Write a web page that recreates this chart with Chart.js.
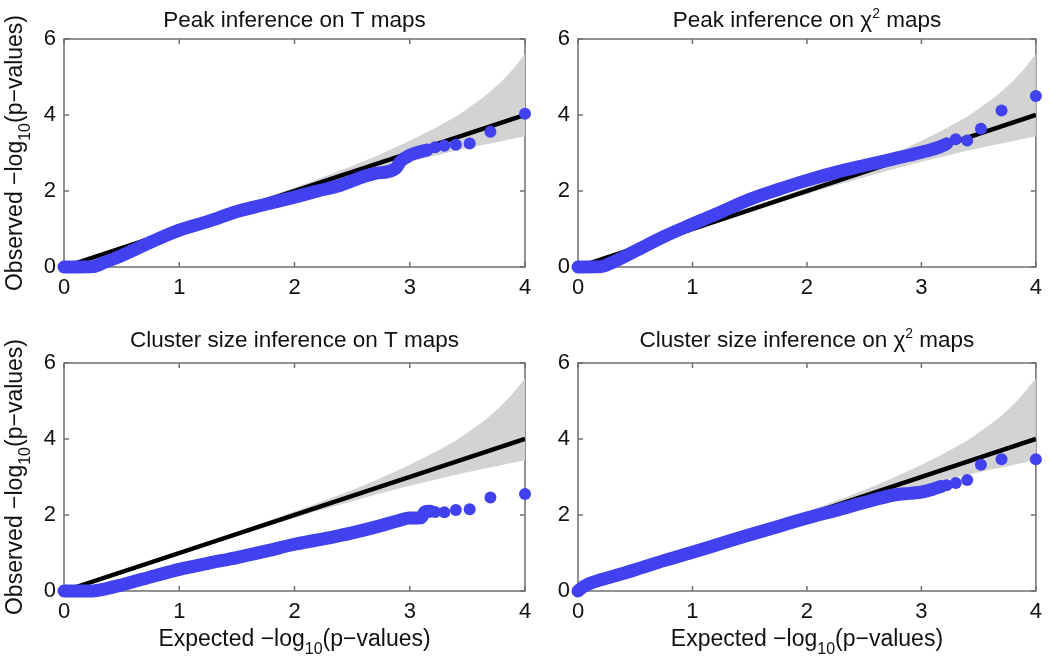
<!DOCTYPE html>
<html>
<head>
<meta charset="utf-8">
<script src="https://cdn.jsdelivr.net/npm/chart.js@4.4.1/dist/chart.umd.min.js"></script>
<style>
  body { margin: 0; background: #fff; width: 1050px; height: 659px; position: relative; overflow: hidden; }
  canvas { position: absolute; }
</style>
</head>
<body>
<canvas id="peakT" width="545" height="320" style="left:0;top:0"></canvas>
<canvas id="peakChi" width="505" height="320" style="left:545px;top:0"></canvas>
<canvas id="clusterT" width="545" height="339" style="left:0;top:320px"></canvas>
<canvas id="clusterChi" width="505" height="339" style="left:545px;top:320px"></canvas>
<script>
// confidence band and y = x reference (same in all four panels)
const bandX = [0, 0.5, 1, 1.5, 2, 2.3, 2.5, 2.7, 3, 3.22, 3.3, 3.4, 3.52, 3.7, 3.85, 4];
const bandUpper = [0, 0.52, 1.03, 1.55, 2.09, 2.43, 2.66, 2.91, 3.32, 3.66, 3.79, 3.96, 4.21, 4.62, 5.05, 5.6];
const bandLower = [0, 0.48, 0.97, 1.46, 1.92, 2.19, 2.36, 2.53, 2.77, 2.93, 2.99, 3.06, 3.14, 3.25, 3.35, 3.44];
const refX = [0, 4];
const refY = [0, 4];

// peak inference, T maps
const peakTX = [0, 0.1, 0.25, 0.35, 0.5, 0.75, 1.0, 1.25, 1.5, 1.75, 2.0, 2.2, 2.4, 2.6, 2.7, 2.88, 2.92, 3.0, 3.1, 3.15];
const peakTY = [0, 0, 0.01, 0.12, 0.3, 0.65, 0.97, 1.2, 1.46, 1.65, 1.84, 2.0, 2.15, 2.38, 2.46, 2.6, 2.78, 2.94, 3.04, 3.08];
const peakTTailX = [3.22, 3.3, 3.4, 3.52, 3.7, 4.0];
const peakTTailY = [3.15, 3.19, 3.22, 3.25, 3.56, 4.03];

// peak inference, chi2 maps
const peakChiX = [0, 0.2, 0.3, 0.5, 0.75, 1.0, 1.25, 1.5, 1.75, 2.0, 2.25, 2.5, 2.75, 3.0, 3.15, 3.22];
const peakChiY = [0, 0.01, 0.12, 0.42, 0.8, 1.13, 1.45, 1.78, 2.04, 2.28, 2.49, 2.67, 2.84, 3.02, 3.15, 3.24];
const peakChiTailX = [3.3, 3.4, 3.52, 3.7, 4.0];
const peakChiTailY = [3.36, 3.33, 3.64, 4.12, 4.5];

// cluster size inference, T maps
const clusterTX = [0, 0.25, 0.35, 0.5, 0.75, 1.0, 1.25, 1.5, 1.75, 2.0, 2.25, 2.5, 2.75, 2.9, 3.0, 3.1, 3.13, 3.18];
const clusterTY = [0, 0, 0.05, 0.16, 0.37, 0.57, 0.73, 0.88, 1.05, 1.23, 1.37, 1.53, 1.72, 1.85, 1.92, 1.93, 2.08, 2.1];
const clusterTTailX = [3.22, 3.3, 3.4, 3.52, 3.7, 4.0];
const clusterTTailY = [2.08, 2.07, 2.13, 2.15, 2.46, 2.55];

// cluster size inference, chi2 maps
const clusterChiX = [0, 0.05, 0.15, 0.3, 0.5, 0.75, 1.0, 1.25, 1.5, 1.75, 2.0, 2.25, 2.5, 2.75, 2.9, 3.0, 3.1, 3.17];
const clusterChiY = [0, 0.12, 0.25, 0.38, 0.56, 0.8, 1.02, 1.25, 1.48, 1.7, 1.92, 2.12, 2.33, 2.52, 2.57, 2.6, 2.68, 2.75];
const clusterChiTailX = [3.22, 3.3, 3.4, 3.52, 3.7, 4.0];
const clusterChiTailY = [2.78, 2.84, 2.92, 3.32, 3.47, 3.47];

const FONT = '"Liberation Sans", Arial, sans-serif';
const BLUE = '#4141ef';
const GREY = '#d3d3d3';

const pts = (xs, ys) => xs.map((x, i) => ({ x: x, y: ys[i] }));

// text with sub/superscripts: parts = [text, size, dy]
function richText(ctx, parts, x, y) {
  let w = 0;
  parts.forEach(p => { ctx.font = p[1] + 'px ' + FONT; w += ctx.measureText(p[0]).width; });
  let cx = x - w / 2;
  parts.forEach(p => {
    ctx.font = p[1] + 'px ' + FONT;
    ctx.fillText(p[0], cx, y + p[2]);
    cx += ctx.measureText(p[0]).width;
  });
}

const frame = {
  id: 'frame',
  beforeDatasetsDraw(chart) {
    const { ctx, chartArea: a } = chart;
    const xs = chart.scales.x, ys = chart.scales.y;
    ctx.save();
    ctx.strokeStyle = '#6f6f6f';
    ctx.lineWidth = 1.5;
    ctx.strokeRect(a.left, a.top, a.width, a.height);
    ctx.beginPath();
    xs.ticks.forEach(t => {
      const px = xs.getPixelForValue(t.value);
      ctx.moveTo(px, a.bottom); ctx.lineTo(px, a.bottom - 5);
      ctx.moveTo(px, a.top); ctx.lineTo(px, a.top + 5);
    });
    ys.ticks.forEach(t => {
      const py = ys.getPixelForValue(t.value);
      ctx.moveTo(a.left, py); ctx.lineTo(a.left + 5, py);
      ctx.moveTo(a.right, py); ctx.lineTo(a.right - 5, py);
    });
    ctx.stroke();
    ctx.restore();
  }
};

const axisX = [['Expected \u2212log', 23, 0], ['10', 16, 8], ['(p\u2212values)', 23, 0]];
const axisY = [['Observed \u2212log', 23, 0], ['10', 16, 8], ['(p\u2212values)', 23, 0]];

const labels = {
  id: 'labels',
  afterDraw(chart, args, o) {
    const { ctx, chartArea: a } = chart;
    ctx.save();
    ctx.fillStyle = '#111';
    ctx.textBaseline = 'alphabetic';
    richText(ctx, o.title, (a.left + a.right) / 2, a.top - o.titleGap);
    if (o.xLabel) {
      richText(ctx, axisX, (a.left + a.right) / 2, a.bottom + 55);
    }
    if (o.yLabel) {
      ctx.translate(22, (a.top + a.bottom) / 2);
      ctx.rotate(-Math.PI / 2);
      richText(ctx, axisY, 0, 0);
    }
    ctx.restore();
  }
};

function makeChart(id, o) {
  new Chart(document.getElementById(id), {
    type: 'line',
    data: {
      datasets: [
        { data: pts(o.tailX, o.tailY), showLine: false, pointRadius: 6, pointBackgroundColor: BLUE, pointBorderWidth: 0, clip: false },
        { data: pts(o.denseX, o.denseY), borderColor: BLUE, borderWidth: 13, borderCapStyle: 'round', borderJoinStyle: 'round',
          pointRadius: 0, cubicInterpolationMode: 'monotone', clip: false },
        { data: pts(refX, refY), borderColor: '#000', borderWidth: 4.5, pointRadius: 0 },
        { data: pts(bandX, bandUpper), borderColor: 'rgba(0,0,0,0)', borderWidth: 1, pointRadius: 0,
          fill: '+1', backgroundColor: GREY, cubicInterpolationMode: 'monotone' },
        { data: pts(bandX, bandLower), borderColor: 'rgba(0,0,0,0)', borderWidth: 1, pointRadius: 0,
          fill: false, cubicInterpolationMode: 'monotone' }
      ]
    },
    options: {
      responsive: false,
      animation: false,
      devicePixelRatio: 1,
      layout: { padding: { top: o.top, right: o.right, left: 0, bottom: 0 } },
      scales: {
        x: {
          type: 'linear', min: 0, max: 4,
          afterFit: s => { s.height = o.xh; },
          grid: { display: false, drawTicks: false },
          border: { display: false },
          ticks: { stepSize: 1, padding: 8, color: '#111', font: { size: 22, family: FONT } }
        },
        y: {
          type: 'linear', min: 0, max: 6,
          afterFit: s => { s.width = o.yw; },
          grid: { display: false, drawTicks: false },
          border: { display: false },
          ticks: { stepSize: 2, padding: 8, color: '#111', font: { size: 22, family: FONT } }
        }
      },
      plugins: {
        legend: { display: false },
        tooltip: { enabled: false },
        labels: { title: o.title, titleGap: o.titleGap, xLabel: o.xLabel, yLabel: o.yLabel }
      }
    },
    plugins: [frame, labels]
  });
}

makeChart('peakT', {
  denseX: peakTX, denseY: peakTY, tailX: peakTTailX, tailY: peakTTailY,
  top: 39, right: 20, xh: 53, yw: 64, titleGap: 12.5, yLabel: true,
  title: [['Peak inference on T maps', 22.5, 0]]
});
makeChart('peakChi', {
  denseX: peakChiX, denseY: peakChiY, tailX: peakChiTailX, tailY: peakChiTailY,
  top: 39, right: 11, xh: 53, yw: 33, titleGap: 12.5,
  title: [['Peak inference on \u03c7', 22.5, 0], ['2', 14, -9], [' maps', 22.5, 0]]
});
makeChart('clusterT', {
  denseX: clusterTX, denseY: clusterTY, tailX: clusterTTailX, tailY: clusterTTailY,
  top: 43, right: 20, xh: 68, yw: 64, titleGap: 16, yLabel: true, xLabel: true,
  title: [['Cluster size inference on T maps', 22.5, 0]]
});
makeChart('clusterChi', {
  denseX: clusterChiX, denseY: clusterChiY, tailX: clusterChiTailX, tailY: clusterChiTailY,
  top: 43, right: 11, xh: 68, yw: 33, titleGap: 16, xLabel: true,
  title: [['Cluster size inference on \u03c7', 22.5, 0], ['2', 14, -9], [' maps', 22.5, 0]]
});
</script>
</body>
</html>
